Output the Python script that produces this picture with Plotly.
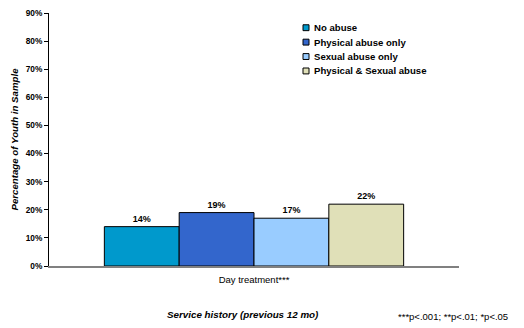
import plotly.graph_objects as go

categories = ["Day treatment***"]
series_names = ["No abuse", "Physical abuse only", "Sexual abuse only", "Physical & Sexual abuse"]
series_values = [[0.14], [0.19], [0.17], [0.22]]
series_colors = ["#0099CC", "#3366CC", "#99CCFF", "#E0E0B8"]
tick_vals = [0, 0.1, 0.2, 0.3, 0.4, 0.5, 0.6, 0.7, 0.8, 0.9]
tick_text = ["0%", "10%", "20%", "30%", "40%", "50%", "60%", "70%", "80%", "90%"]

FONT = "Arial, Liberation Sans, sans-serif"

fig = go.Figure()
for name, vals, col in zip(series_names, series_values, series_colors):
    fig.add_trace(go.Bar(
        x=categories, y=vals, name=name,
        marker=dict(color=col, line=dict(color="#000000", width=1)),
        text=[f"<b>{v*100:.0f}%</b>" for v in vals],
        textposition="outside",
        textfont=dict(family=FONT, size=9, color="#000000"),
        cliponaxis=False, showlegend=False,
    ))

# custom compact legend (paper coordinates)
PLOT_L, PLOT_W, PLOT_B, PLOT_H = 49, 410, 266, 258
def px_x(p):
    return (p - PLOT_L) / PLOT_W
def px_y(p):
    return (PLOT_B - p) / PLOT_H

for i, (name, col) in enumerate(zip(series_names, series_colors)):
    cy = 23 + i * 14.7
    fig.add_shape(type="rect", xref="paper", yref="paper",
                  x0=px_x(303), x1=px_x(309), y0=px_y(cy + 3), y1=px_y(cy - 3),
                  fillcolor=col, line=dict(color="#000000", width=1))
    fig.add_annotation(text=f"<b>{name}</b>", xref="paper", yref="paper",
                       x=px_x(311.5), y=px_y(cy), xanchor="left", yanchor="middle",
                       showarrow=False, font=dict(family=FONT, size=9.6, color="#000000"))

fig.update_layout(
    width=524, height=328,
    margin=dict(l=49, r=65, t=8, b=62),
    paper_bgcolor="white", plot_bgcolor="white",
    barmode="group", bargap=0.27, bargroupgap=0,
    font=dict(family=FONT, size=8, color="#000000"),
    showlegend=False,
    xaxis=dict(
        showline=True, linecolor="#808080", linewidth=1.5,
        ticks="", tickfont=dict(family=FONT, size=9.5), ticklabelstandoff=4,
    ),
    yaxis=dict(
        range=[0, 0.9], tickvals=tick_vals,
        ticktext=[f"<b>{t}</b>" for t in tick_text],
        showline=True, linecolor="#000000", linewidth=1,
        ticks="outside", ticklen=4, tickcolor="#000000",
        showgrid=False, zeroline=False,
        tickfont=dict(family=FONT, size=8.3),
        title=dict(text="<b><i>Percentage of Youth in Sample</i></b>",
                   font=dict(family=FONT, size=9.7), standoff=5),
    ),
)

fig.add_annotation(
    text="<b><i>Service history (previous 12 mo)</i></b>",
    xref="paper", yref="paper", x=px_x(242), y=px_y(315),
    xanchor="center", yanchor="middle", showarrow=False,
    font=dict(family=FONT, size=9.8, color="#000000"),
)
fig.add_annotation(
    text="***p<.001; **p<.01; *p<.05",
    xref="paper", yref="paper", x=px_x(510), y=px_y(317),
    xanchor="right", yanchor="middle", showarrow=False,
    font=dict(family=FONT, size=9.5, color="#000000"),
)

fig.write_html("out.html")
